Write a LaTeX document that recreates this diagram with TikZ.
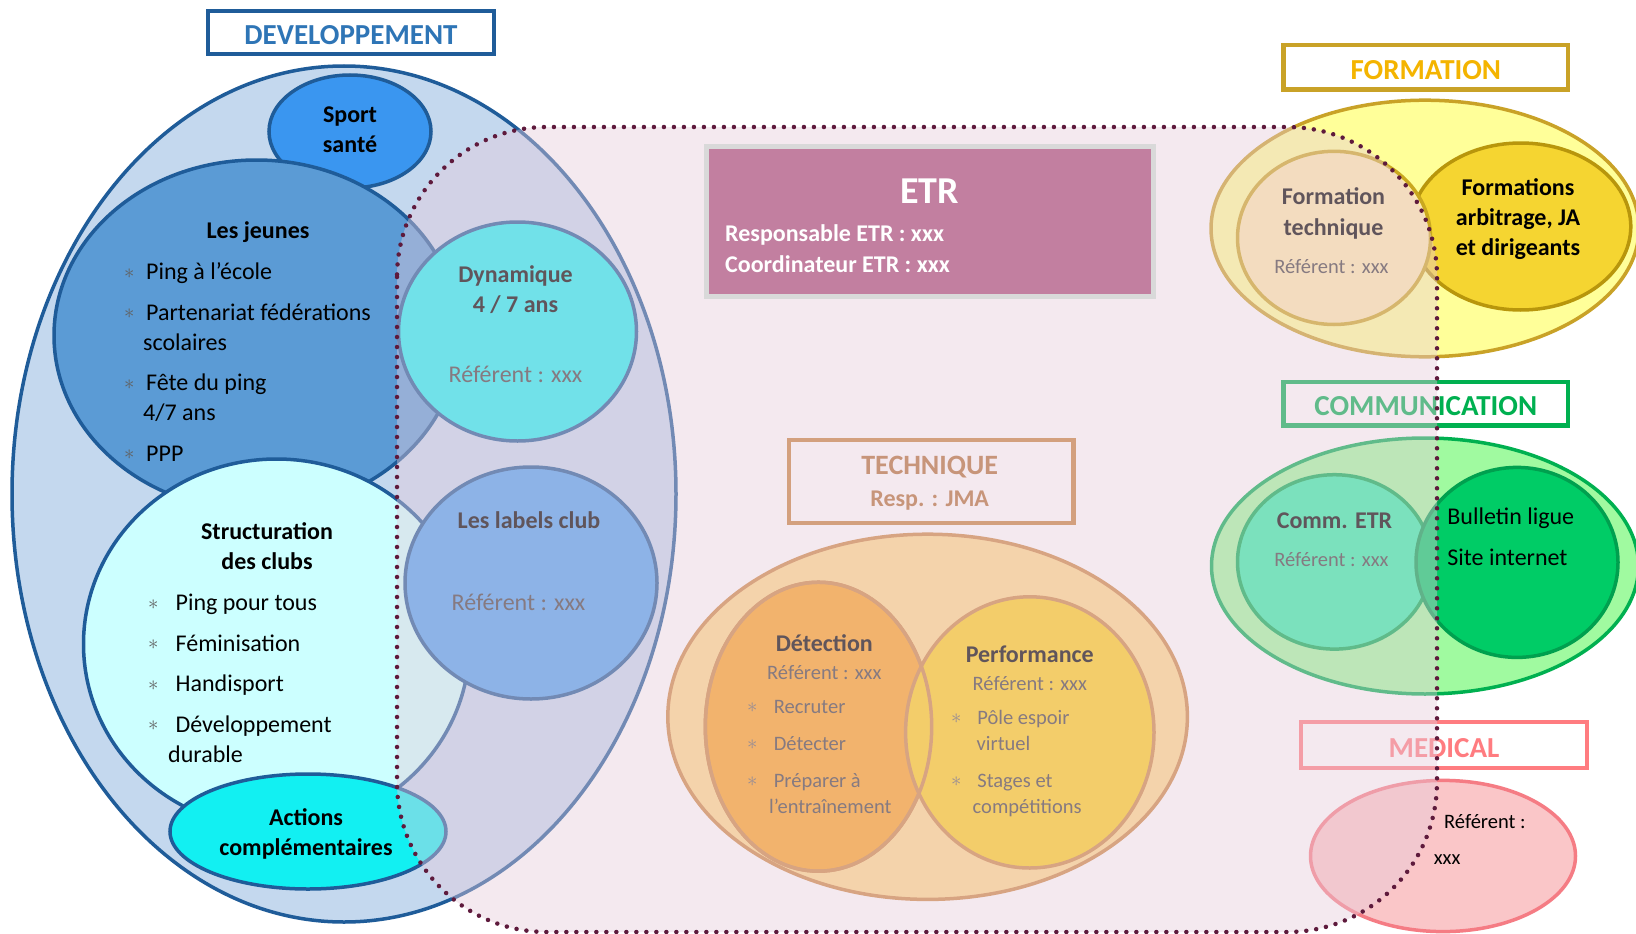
\documentclass[tikz,border=0pt]{standalone}
\usepackage{fontspec}
\setmainfont{Carlito}
\definecolor{devbleu}{HTML}{1F5C99}
\definecolor{devtexte}{HTML}{2E75B6}
\definecolor{devfond}{HTML}{C4D8EE}
\definecolor{sportbleu}{HTML}{3A96F0}
\definecolor{jeunesbleu}{HTML}{5B9BD5}
\definecolor{structcyan}{HTML}{CCFFFF}
\definecolor{actioncyan}{HTML}{12F0F2}
\definecolor{dynacyan}{HTML}{1CF2F4}
\definecolor{labelbleu}{HTML}{4CA3F1}
\definecolor{techfond}{HTML}{FFDA8A}
\definecolor{techtrait}{HTML}{CD8842}
\definecolor{techboite}{HTML}{C6813C}
\definecolor{techtexte}{HTML}{B16E34}
\definecolor{detorange}{HTML}{FAA31F}
\definecolor{perfjaune}{HTML}{FDD01A}
\definecolor{formtrait}{HTML}{C9A227}
\definecolor{formtexte}{HTML}{F4B400}
\definecolor{formfond}{HTML}{FFFF99}
\definecolor{formtech}{HTML}{FDEAAC}
\definecolor{formtechtrait}{HTML}{CAA81F}
\definecolor{formarb}{HTML}{F5D531}
\definecolor{formarbtrait}{HTML}{B8960C}
\definecolor{commvert}{HTML}{00B050}
\definecolor{commfond}{HTML}{A0FAA0}
\definecolor{commetr}{HTML}{2EF2A8}
\definecolor{bulletvert}{HTML}{00CC66}
\definecolor{bullettrait}{HTML}{00A04F}
\definecolor{medrose}{HTML}{FF7C80}
\definecolor{medfond}{HTML}{FAC6C8}
\definecolor{medtrait}{HTML}{F57C84}
\definecolor{etrrose}{HTML}{E7CBDB}
\definecolor{pointille}{HTML}{5E1A3C}
\definecolor{etrmauve}{HTML}{C27FA0}
\definecolor{etrgris}{HTML}{D9D9D9}
\definecolor{refgris}{HTML}{404040}
\newcommand{\grand}{\fontsize{24}{30}\selectfont}
\newcommand{\petit}{\fontsize{20.5}{26}\selectfont}
\newcommand{\puce}[1][22pt]{\makebox[#1][l]{\raisebox{1.5pt}{\fontsize{20}{20}\selectfont\color{black!62}$\ast$}}}
\tikzset{
  zone/.style={line width=3.5pt},
  boitetitre/.style={draw, line width=4.5pt, fill=white, inner sep=0pt,
    text height=24pt, text depth=0pt, font=\fontsize{29}{34}\selectfont\bfseries},
  entete/.style={inner sep=0pt, font=\grand\bfseries, align=center, anchor=base},
  liste/.style={inner sep=0pt, font=\grand, align=left, anchor=base west},
  petitliste/.style={inner sep=0pt, font=\petit, align=left, anchor=base west, text=refgris},
  referent/.style={inner sep=0pt, font=\petit, anchor=base, text=refgris},
  etrzone/.style={fill=etrrose, fill opacity=0.42, draw=pointille, line width=4.5pt,
    line cap=round, dash pattern=on 0pt off 10pt, rounded corners=150pt},
  etrboite/.style={fill=etrmauve, draw=etrgris, line width=5pt, inner sep=0pt,
    minimum width=447pt, minimum height=150pt}
}
\begin{document}
\begin{tikzpicture}[x=1pt,y=-1pt]
  \useasboundingbox (0,0) rectangle (1636,934);
  \fill[white] (0,0) rectangle (1636,934);
  % developpement
  \filldraw[zone, fill=devfond, draw=devbleu] (344,494) ellipse [x radius=332pt, y radius=428pt];
  \filldraw[zone, fill=sportbleu, draw=devbleu] (350,131.5) ellipse [x radius=81pt, y radius=56.5pt];
  \filldraw[zone, fill=jeunesbleu, draw=devbleu] (256.5,335.5) ellipse [x radius=202.5pt, y radius=175.5pt];
  \filldraw[zone, fill=dynacyan, draw=devbleu] (517.5,331.5) ellipse [x radius=119pt, y radius=109.5pt];
  \filldraw[zone, fill=structcyan, draw=devbleu] (276.5,644) ellipse [x radius=193pt, y radius=185pt];
  \filldraw[zone, fill=labelbleu, draw=devbleu] (531,583) ellipse [x radius=126pt, y radius=116pt];
  \filldraw[zone, fill=actioncyan, draw=devbleu] (308,831.5) ellipse [x radius=138pt, y radius=57.5pt];
  \node[boitetitre, draw=devbleu, text=devtexte, minimum width=286pt, minimum height=43pt] (devTitre) at (351,32.5) {DEVELOPPEMENT};
  \node[entete] (sport) at (350,152) {Sport\\santé};
  \node[entete] (jeunes) at (258,238) {Les jeunes};
  \node[liste] (jeunesListe) at (124,461) {\puce Ping à l’école\\[10.5pt]
    \puce Partenariat fédérations\\ \hspace*{19pt}scolaires\\[10.5pt]
    \puce Fête du ping\\ \hspace*{19pt}4/7 ans\\[10.5pt]
    \puce PPP};
  \node[entete] (struct) at (267,569) {Structuration\\des clubs};
  \node[liste] (structListe) at (148,762) {\puce[22pt] Ping pour tous\\[10.5pt]
    \puce[22pt] Féminisation\\[10.5pt]
    \puce[22pt] Handisport\\[10.5pt]
    \puce[22pt] Développement\\ \hspace*{20pt}durable};
  \node[entete] (actions) at (306,855) {Actions\\complémentaires};
  \node[entete] (dyna) at (515.5,312.7) {Dynamique\\4 / 7 ans};
  \node[referent, font=\grand] (dynaRef) at (515.5,382.5) {Référent : xxx};
  \node[entete] (labels) at (529,528.5) {Les labels club};
  \node[referent, font=\grand] (labelsRef) at (518.5,610) {Référent : xxx};
  % technique
  \filldraw[zone, fill=techfond, draw=techtrait] (927.6,716.8) ellipse [x radius=259.8pt, y radius=182.6pt];
  \filldraw[zone, fill=detorange, draw=techtrait] (818.5,726.7) ellipse [x radius=113.2pt, y radius=144.5pt];
  \filldraw[zone, fill=perfjaune, draw=techtrait] (1029.8,732.4) ellipse [x radius=124.2pt, y radius=135.6pt];
  \draw[zone, draw=techtrait] (818.5,726.7) ellipse [x radius=113.2pt, y radius=144.5pt];
  \node[boitetitre, draw=techboite, minimum width=284.6pt, minimum height=82.7pt] (techBoite) at (931.3,481.4) {};
  \node[entete, font=\fontsize{28}{34}\selectfont\bfseries, text=techtexte] (techTitre) at (929.7,474.4) {TECHNIQUE};
  \node[entete, text=techtexte] (techResp) at (929.7,506.7) {Resp. : JMA};
  \node[entete] (detect) at (824.3,651) {Détection};
  \node[referent] (detectRef) at (824.3,679) {Référent : xxx};
  \node[petitliste] (detectListe) at (747,813.6) {\puce[22pt] Recruter\\[11pt]
    \puce[22pt] Détecter\\[11pt]
    \puce[22pt] Préparer à\\ \hspace*{22pt}l’entraînement};
  \node[entete] (perf) at (1029.8,662.3) {Performance};
  \node[referent] (perfRef) at (1029.8,690.5) {Référent : xxx};
  \node[petitliste] (perfListe) at (951,813.6) {\puce[21.5pt] Pôle espoir\\ \hspace*{25.5pt}virtuel\\[11pt]
    \puce[21.5pt] Stages et\\ \hspace*{21.5pt}compétitions};
  % formation
  \filldraw[zone, fill=formfond, draw=formtrait] (1425,228.5) ellipse [x radius=214pt, y radius=128.3pt];
  \filldraw[zone, fill=formarb, draw=formarbtrait] (1520.8,226.5) ellipse [x radius=110pt, y radius=83.5pt];
  \filldraw[zone, fill=formtech, draw=formtechtrait] (1334,237.9) ellipse [x radius=96.5pt, y radius=86.6pt];
  \node[boitetitre, draw=formtrait, text=formtexte, minimum width=284.8pt, minimum height=44.8pt] (formTitre) at (1425.8,67.3) {FORMATION};
  \node[entete, font=\fontsize{24}{31}\selectfont\bfseries] (formTech) at (1333.5,235.5) {Formation\\technique};
  \node[referent] (formRef) at (1331.4,273) {Référent : xxx};
  \node[entete] (formArb) at (1518,255.3) {Formations\\arbitrage, JA\\et dirigeants};
  % communication
  \filldraw[zone, fill=commfond, draw=commvert] (1425,566) ellipse [x radius=213.5pt, y radius=128pt];
  \filldraw[zone, fill=commetr, draw=commvert] (1334.5,561.9) ellipse [x radius=97pt, y radius=87.2pt];
  \filldraw[zone, fill=bulletvert, draw=bullettrait] (1517,562.4) ellipse [x radius=101pt, y radius=95pt];
  \node[boitetitre, draw=commvert, text=commvert, minimum width=284.8pt, minimum height=43.8pt] (commTitre) at (1425.8,403.8) {COMMUNICATION};
  \node[entete] (commEtr) at (1334.5,528.7) {Comm. ETR};
  \node[referent] (commRef) at (1331.4,566.3) {Référent : xxx};
  \node[liste] (bulletin) at (1447.2,565.2) {Bulletin ligue\\[10.7pt]Site internet};
  % medical
  \filldraw[zone, fill=medfond, draw=medtrait] (1443,856) ellipse [x radius=132.5pt, y radius=75.6pt];
  \node[boitetitre, draw=medrose, text=medrose, minimum width=286pt, minimum height=46pt] (medTitre) at (1444,745) {MEDICAL};
  \node[petitliste, text=black] (medRef) at (1444,828.2) {Référent :};
  \node[petitliste, text=black] (medXxx) at (1433.6,864.7) {xxx};
  % ETR
  \filldraw[etrzone] (397,127) rectangle (1437,932);
  \node[etrboite] (etr) at (930,221.7) {};
  \node[entete, font=\fontsize{38}{44}\selectfont\bfseries, text=white] (etrTitre) at (929.7,203) {ETR};
  \node[liste, font=\fontsize{24}{31}\selectfont\bfseries, text=white] (etrResp) at (725,272) {Responsable ETR : xxx\\Coordinateur ETR : xxx};
\end{tikzpicture}
\end{document}
